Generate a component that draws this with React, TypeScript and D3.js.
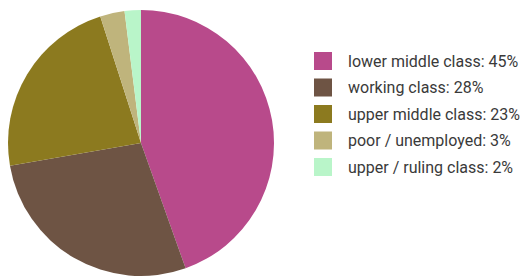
import React, {useEffect, useRef} from 'react';
import * as d3 from 'd3';

const categories = ['lower middle class', 'working class', 'upper middle class', 'poor / unemployed', 'upper / ruling class'];
const shares = [45, 28, 23, 3, 2];
const colors = ['#b84a8b', '#6e5444', '#8c7a1f', '#bfb47c', '#b9f5c9'];

export default function App() {
    const svgRef = useRef<SVGSVGElement>(null);
    useEffect(() => {
        const svg = d3.select(svgRef.current);
        svg.selectAll('*').remove();
        const cx = 141, cy = 143, r = 133;
        const pie = d3.pie<number>().sort(null).value(d => d);
        const arc = d3.arc<d3.PieArcDatum<number>>().innerRadius(0).outerRadius(r);
        const g = svg.append('g').attr('transform', `translate(${cx},${cy})`);
        g.selectAll('path')
            .data(pie(shares))
            .join('path')
            .attr('d', arc)
            .attr('fill', (d, i) => colors[i]);

        // legend rows, step ~26.5px
        const y = d3.scaleBand<number>().domain(d3.range(categories.length)).range([52, 52 + 26.5 * 4.68]).paddingInner(0.32);
        const leg = svg.append('g');
        leg.selectAll('rect')
            .data(categories)
            .join('rect')
            .attr('x', 314)
            .attr('y', (d, i) => y(i)!)
            .attr('width', 18)
            .attr('height', 18)
            .attr('fill', (d, i) => colors[i]);
        leg.selectAll('text')
            .data(categories)
            .join('text')
            .attr('x', 348)
            .attr('y', (d, i) => y(i)! + 9)
            .attr('dy', '0.35em')
            .attr('font-family', 'Roboto, sans-serif')
            .attr('font-size', 16)
            .attr('fill', '#3a3a3a')
            .text((d, i) => `${d}: ${shares[i]}%`);
    }, []);
    return (
        <svg ref={svgRef} width={528} height={278} style={{position: 'absolute', left: 0, top: 0, background: '#fff'}}></svg>
    );
}
